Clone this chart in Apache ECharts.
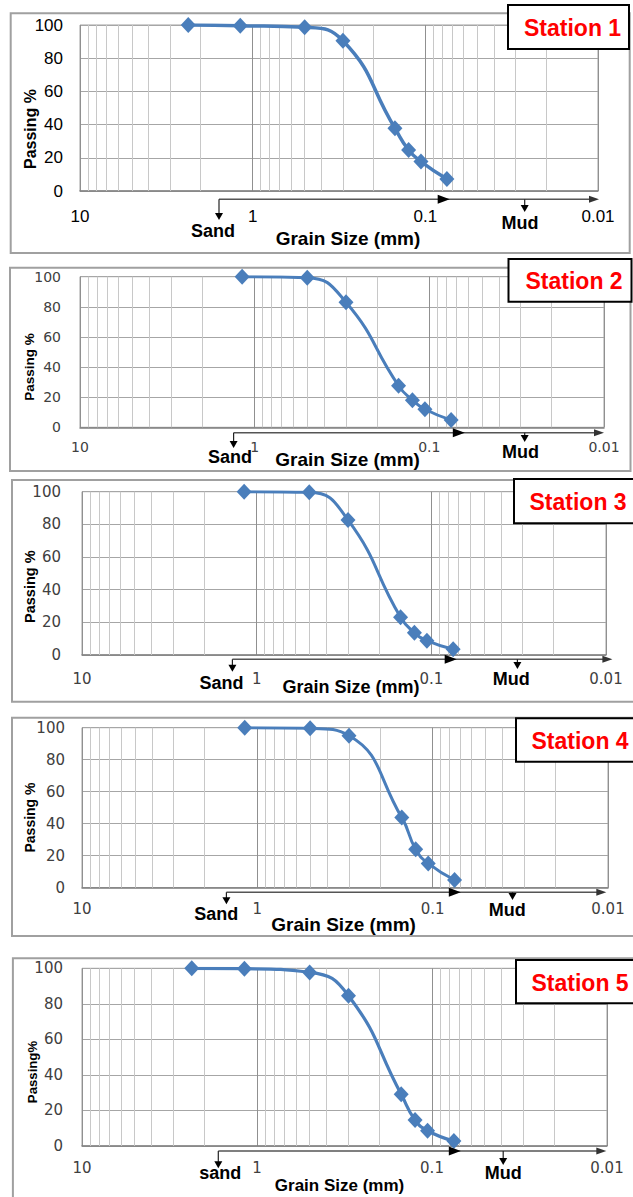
<!DOCTYPE html>
<html><head><meta charset="utf-8">
<script src="https://cdn.jsdelivr.net/npm/echarts@6/dist/echarts.min.js"></script>
<style>html,body{margin:0;padding:0;background:#fff}#c{width:633px;height:1197px}</style>
</head><body><div id="c"></div>
<script>
// ---------------- data ----------------
const grainSizes8 = [2.36, 1.18, 0.5, 0.3, 0.15, 0.125, 0.106, 0.075];
const grainSizes7 = [1.18, 0.5, 0.3, 0.15, 0.125, 0.106, 0.075];
const station1 = [100, 99.6, 98.6, 90.5, 37.8, 24.7, 17.7, 7.2];
const station2 = [100, 99.3, 83.0, 27.6, 18.0, 12.0, 4.8];
const station3 = [100, 99.6, 82.7, 23.1, 13.7, 8.8, 3.5];
const station4 = [100, 99.6, 95.0, 43.8, 24.0, 15.2, 4.8];
const station5 = [100, 99.8, 97.7, 84.6, 29.1, 14.6, 8.6, 2.8];
const stationNames = ['Station 1', 'Station 2', 'Station 3', 'Station 4', 'Station 5'];
const xTickValues = [10, 1, 0.1, 0.01];
const xTickLabels = ['10', '1', '0.1', '0.01'];
const yTickValues = [0, 20, 40, 60, 80, 100];
const minorGridSizes = [9, 8, 7, 6, 5, 4, 3, 2, 0.9, 0.8, 0.7, 0.6, 0.5, 0.4, 0.3, 0.2,
                        0.09, 0.08, 0.07, 0.06, 0.05, 0.04, 0.03, 0.02];
const yAxisNames = ['Passing %', 'Passing %', 'Passing %', 'Passing %', 'Passing%'];
const sandLabels = ['Sand', 'Sand', 'Sand', 'Sand', 'sand'];
const mudLabel = 'Mud';
const xAxisName = 'Grain Size (mm)';

const seriesSizes = [grainSizes8, grainSizes7, grainSizes7, grainSizes7, grainSizes8];
const seriesValues = [station1, station2, station3, station4, station5];

// ---------------- layout ----------------
const L = [
  { grid: [80, 25, 518, 166], frame: [10.7, 13.3, 619, 239.7], box: [508, 5, 121, 44], boxTextX: 524,
    yName: [30.7, 129, 16], yLblMargin: 17, xLblMargin: 17, tickFont: 'Liberation Sans', tickSize: 17, tickColor: '#000',
    arrowY: 199.3, sandX: 219, sandTipY: 220, headX: 449.7, endX: 599, mudX: 524.7, mudTipY: 212,
    sandText: [213, 231], mudText: [520, 222.7], xName: [348, 238.3, 19], lineW: 3.5 },
  { grid: [80, 276.7, 524, 150.6], frame: [10, 267.7, 620.5, 203.3], box: [508.5, 259, 123, 42.7], boxTextX: 525.5,
    yName: [29, 367, 13.5], yLblMargin: 19, xLblMargin: 13, tickFont: 'DejaVu Sans', tickSize: 14, tickColor: '#404040',
    arrowY: 432.7, sandX: 233.6, sandTipY: 448, headX: 464.8, endX: 604, mudX: 524.7, mudTipY: 442,
    sandText: [230, 457.3], mudText: [520.6, 451.7], xName: [347.6, 459, 19], lineW: 3 },
  { grid: [82, 491.7, 524, 163.3], frame: [12, 480, 640, 221.7], box: [514, 479, 130, 44.3], boxTextX: 529.5,
    yName: [30.3, 586.7, 14.5], yLblMargin: 21, xLblMargin: 16, tickFont: 'DejaVu Sans', tickSize: 15, tickColor: '#404040',
    arrowY: 659.3, sandX: 232.4, sandTipY: 671.7, headX: 456.7, endX: 612.4, mudX: 517.4, mudTipY: 669,
    sandText: [221.5, 683.3], mudText: [511.3, 679], xName: [351, 687.3, 18], lineW: 3 },
  { grid: [82, 727.7, 526, 160], frame: [12, 717.7, 640, 218.3], box: [516, 718.3, 130, 43.4], boxTextX: 531.5,
    yName: [30.3, 817.5, 14], yLblMargin: 17, xLblMargin: 14, tickFont: 'DejaVu Sans', tickSize: 15, tickColor: '#404040',
    arrowY: 892.3, sandX: 226.4, sandTipY: 904.3, headX: 460.8, endX: 606.3, mudX: 512.5, mudTipY: 900,
    sandText: [216.2, 914.3], mudText: [507.3, 910], xName: [343.6, 924.3, 19], lineW: 3 },
  { grid: [82, 968.3, 525, 177.7], frame: [12.9, 958.3, 640, 260], box: [516, 960, 130, 43.3], boxTextX: 531.5,
    yName: [32.3, 1072, 13.2], yLblMargin: 19, xLblMargin: 14, tickFont: 'DejaVu Sans', tickSize: 15, tickColor: '#404040',
    arrowY: 1151, sandX: 218.3, sandTipY: 1168.3, headX: 460.8, endX: 606.3, mudX: 503.2, mudTipY: 1165,
    sandText: [220.3, 1173.3], mudText: [503.2, 1173.3], xName: [339.5, 1185, 17], lineW: 3.2 }
];

const BLUE = '#4a7ebb';
const grids = [], xAxes = [], yAxes = [], series = [], graphics = [];
const boldFont = (s) => 'bold ' + s + 'px "Liberation Sans", Arial, sans-serif';

L.forEach((p, i) => {
  grids.push({ left: p.grid[0], top: p.grid[1], width: p.grid[2], height: p.grid[3],
    show: true, borderColor: '#a0a0a0', borderWidth: 1, backgroundColor: 'transparent' });
  xAxes.push({ gridIndex: i, type: 'log', logBase: 10, min: 0.01, max: 10, inverse: true,
    axisLine: { show: true, lineStyle: { color: '#808080', width: 1.5 } },
    axisTick: { show: false },
    axisLabel: { margin: p.xLblMargin, fontFamily: p.tickFont, fontSize: p.tickSize, color: p.tickColor,
      showMinLabel: true, showMaxLabel: true,
      formatter: (v) => { const k = xTickValues.findIndex(t => Math.abs(Math.log10(t) - Math.log10(v)) < 1e-6); return k >= 0 ? xTickLabels[k] : ''; } },
    splitLine: { show: true, lineStyle: { color: '#909090', width: 1 } } });
  yAxes.push({ gridIndex: i, type: 'value', min: yTickValues[0], max: yTickValues[yTickValues.length - 1], interval: 20,
    axisLine: { show: false }, axisTick: { show: false },
    axisLabel: { margin: p.yLblMargin, fontFamily: p.tickFont, fontSize: p.tickSize, color: p.tickColor },
    splitLine: { show: true, lineStyle: { color: '#a6a6a6', width: 1 } } });
  // minor log grid lines
  series.push({ type: 'line', xAxisIndex: i, yAxisIndex: i, data: [], z: 1, silent: true,
    markLine: { silent: true, symbol: ['none', 'none'], label: { show: false }, animation: false,
      lineStyle: { color: '#c8c8c8', width: 1, type: 'solid' },
      emphasis: { disabled: true },
      data: minorGridSizes.map(v => ({ xAxis: v })) } });
  series.push({ type: 'line', xAxisIndex: i, yAxisIndex: i, z: 5, smooth: 0.5,
    data: seriesSizes[i].map((s, k) => [s, seriesValues[i][k]]),
    symbol: 'diamond', symbolSize: [15, 16],
    itemStyle: { color: BLUE }, lineStyle: { color: BLUE, width: p.lineW } });

  // frame
  graphics.push({ type: 'rect', shape: { x: p.frame[0], y: p.frame[1], width: p.frame[2], height: p.frame[3] },
    style: { fill: 'none', stroke: '#a0a0a0', lineWidth: 2 }, z: 0 });
  // station box
  graphics.push({ type: 'rect', shape: { x: p.box[0], y: p.box[1], width: p.box[2], height: p.box[3] },
    style: { fill: '#fff', stroke: '#000', lineWidth: 2 }, z: 10 });
  graphics.push({ type: 'text', x: p.boxTextX, y: p.box[1] + p.box[3] / 2 + 1, z: 11,
    style: { text: stationNames[i], fill: '#ff0000', font: boldFont(23), align: 'left', textAlign: 'left', verticalAlign: 'middle', textVerticalAlign: 'middle' } });
  // y-axis name
  graphics.push({ type: 'text', x: p.yName[0], y: p.yName[1], rotation: Math.PI / 2, z: 11,
    style: { text: yAxisNames[i], fill: '#000', font: boldFont(p.yName[2]), align: 'center', textAlign: 'center', verticalAlign: 'middle', textVerticalAlign: 'middle' } });
  // arrows
  const y = p.arrowY;
  graphics.push({ type: 'line', shape: { x1: p.sandX, y1: y, x2: p.endX - 8, y2: y }, style: { stroke: '#555', lineWidth: 1.5 }, z: 10 });
  graphics.push({ type: 'polygon', shape: { points: [[p.headX, y], [p.headX - 12, y - 4.5], [p.headX - 12, y + 4.5]] }, style: { fill: '#000' }, z: 10 });
  graphics.push({ type: 'polygon', shape: { points: [[p.endX, y], [p.endX - 10, y - 3.5], [p.endX - 10, y + 3.5]] }, style: { fill: '#333' }, z: 10 });
  [[p.sandX, p.sandTipY], [p.mudX, p.mudTipY]].forEach(([ax, ty]) => {
    graphics.push({ type: 'line', shape: { x1: ax, y1: y, x2: ax, y2: ty - 5 }, style: { stroke: '#222', lineWidth: 1.2 }, z: 10 });
    graphics.push({ type: 'polygon', shape: { points: [[ax, ty], [ax - 4, ty - 7], [ax + 4, ty - 7]] }, style: { fill: '#000' }, z: 10 });
  });
  const txt = (t, xy, size) => graphics.push({ type: 'text', x: xy[0], y: xy[1], z: 12,
    style: { text: t, fill: '#000', font: boldFont(size), align: 'center', textAlign: 'center', verticalAlign: 'middle', textVerticalAlign: 'middle' } });
  txt(sandLabels[i], p.sandText, 18);
  txt(mudLabel, p.mudText, 18);
  txt(xAxisName, p.xName, p.xName[2]);
});

const chart = echarts.init(document.getElementById('c'), null, { renderer: 'svg', width: 633, height: 1197 });
chart.setOption({
  animation: false,
  backgroundColor: '#fff',
  grid: grids, xAxis: xAxes, yAxis: yAxes, series: series, graphic: graphics
});
</script></body></html>
